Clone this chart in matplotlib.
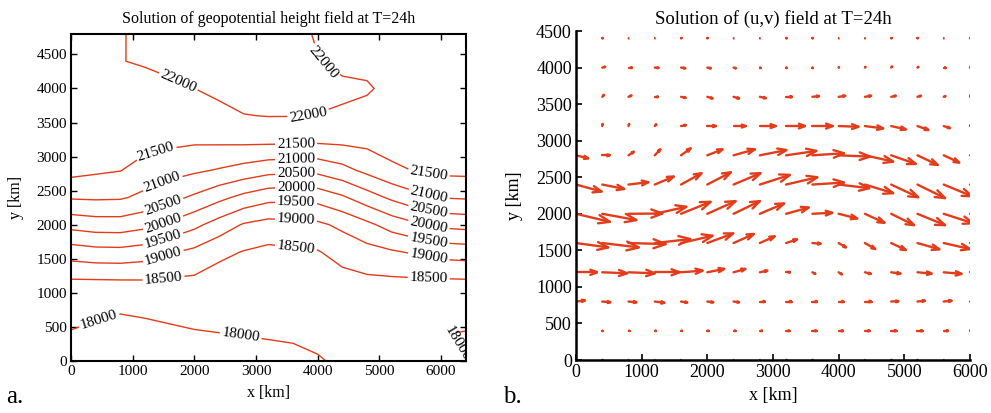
import numpy as np
import matplotlib.pyplot as plt
from matplotlib.collections import LineCollection

plt.rcParams['font.family'] = ['Liberation Serif', 'DejaVu Serif']

RED = '#e23c1a'

# geopotential height h (m) on a 400 km grid, rows from y = 0 upwards
x_h = np.arange(0, 6401, 400)
y_h = np.arange(0, 4801, 400)
h = [
    [17930, 17820, 17690, 17770, 17870, 17930, 17970, 17900, 17900, 17920, 17980, 18040, 18060, 18070, 18060, 18060, 18010],
    [17962, 17848, 17713, 17799, 17896, 17963, 17994, 18009, 18027, 18043, 18060, 18090, 18120, 18130, 18120, 18010, 17975],
    [18231, 18175, 18109, 18152, 18183, 18198, 18150, 18168, 18140, 18150, 18170, 18250, 18250, 18260, 18260, 18250, 18230],
    [18499, 18504, 18510, 18510, 18471, 18433, 18300, 18323, 18260, 18280, 18310, 18360, 18430, 18450, 18470, 18485, 18499],
    [19244, 19329, 19345, 19260, 19053, 18886, 18620, 18478, 18380, 18420, 18470, 18676, 18825, 18945, 19062, 19192, 19235],
    [20167, 20259, 20268, 20136, 19899, 19622, 19288, 18954, 18820, 18859, 18904, 19108, 19385, 19704, 19928, 20111, 20167],
    [21049, 21070, 21053, 20885, 20653, 20418, 20130, 19859, 19656, 19628, 19679, 19928, 20272, 20591, 20861, 21017, 21049],
    [21660, 21576, 21515, 21296, 21184, 21079, 20962, 20815, 20666, 20624, 20634, 20842, 21128, 21400, 21530, 21621, 21631],
    [21740, 21700, 21700, 21651, 21579, 21532, 21539, 21548, 21542, 21530, 21514, 21552, 21601, 21700, 21680, 21720, 21740],
    [21800, 21790, 21830, 21760, 21760, 21765, 21852, 21985, 22014, 22012, 21985, 21927, 21880, 21820, 21780, 21790, 21800],
    [21850, 21860, 21920, 21880, 21920, 21998, 22120, 22200, 22220, 22200, 22150, 22100, 22040, 21900, 21840, 21840, 21850],
    [21890, 21920, 21990, 22034, 22112, 22140, 22180, 22230, 22260, 22200, 22020, 21880, 21900, 21880, 21860, 21870, 21890],
    [21910, 21950, 21982, 22060, 22130, 22160, 22190, 22230, 22260, 22150, 21950, 21850, 21850, 21850, 21850, 21880, 21910],
]
levels = [18000, 18500, 19000, 19500, 20000, 20500, 21000, 21500, 22000]
# where the contour values are written
label_pos = [
    (1750, 4120), (4080, 4380), (3850, 3610),
    (1380, 3060), (3650, 3180), (5800, 2740),
    (1500, 2580), (3650, 2955), (5800, 2420),
    (1500, 2280), (3650, 2750), (5800, 2200),
    (1500, 2010), (3650, 2560), (5800, 1990),
    (1500, 1760), (3650, 2350), (5800, 1780),
    (1500, 1530), (3650, 2110), (5800, 1530),
    (1500, 1215), (3650, 1700), (5800, 1220),
    (450, 620), (2750, 370), (6260, 250),
]

# wind (m/s) on a 400 km grid, rows from y = 0 upwards
x_uv = np.arange(0, 6001, 400)
y_uv = np.arange(0, 4401, 400)
u = [
    [0.3] * 16,
    [0.5, 0.3, 0.8, 1.0, 1.0, 1.2, 1.5, 2.0, 2.8, 3.3, 3.6, 3.8, 4.1, 4.1, 3.6, 0.5],
    [6.9, 6.3, 6.1, 7.4, 4.8, 4.6, 4.3, 4.1, 4.3, 3.8, 4.1, 5.1, 5.6, 5.8, 6.1, 6.9],
    [16.3, 19.0, 20.1, 19.0, 16.5, 13.0, 9.1, 5.8, 3.3, 2.3, 2.5, 4.6, 7.1, 10.9, 13.7, 16.3],
    [24.6, 27.9, 28.4, 27.2, 24.1, 19.8, 15.5, 11.4, 8.4, 6.4, 5.6, 7.9, 11.2, 16.8, 20.1, 24.6],
    [25.9, 26.1, 25.9, 24.1, 22.6, 21.6, 20.1, 18.5, 17.3, 15.2, 14.2, 15.0, 17.5, 21.1, 22.5, 25.9],
    [19.6, 16.8, 15.2, 14.5, 15.7, 18.0, 20.6, 22.9, 23.9, 24.1, 23.4, 21.6, 20.6, 21.1, 21.6, 19.6],
    [9.4, 5.8, 4.1, 4.3, 7.4, 11.7, 16.3, 20.3, 23.1, 24.1, 23.9, 21.6, 18.8, 15.5, 11.9, 9.4],
    [0.3, 0.3, 0.5, 1.2, 3.8, 6.6, 9.4, 12.2, 14.5, 15.5, 15.2, 14.0, 11.2, 8.4, 4.8, 0.3],
    [0.3, 1.3, 2.3, 2.8, 3.6, 4.1, 4.3, 4.6, 4.8, 5.1, 5.1, 4.8, 3.6, 2.8, 1.3, 0.3],
    [0.3, 2.3, 3.0, 3.0, 3.3, 2.8, 1.8, 0.5, 0.5, 0.3, 0.3, 0.5, 0.8, 0.8, 1.5, 0.3],
    [0.4] * 16,
]
v = [
    [0.0] * 16,
    [0.3, 0.0, 0.0, 0.0, 0.0, 0.0, 0.0, 0.0, 0.0, 0.0, 0.0, 0.0, 0.0, 0.0, 0.0, 0.3],
    [0.7, -0.5, -0.5, -0.9, -0.7, -0.5, -0.5, 0.0, 0.0, 0.0, 0.0, 0.0, 0.2, 0.5, 0.5, 0.7],
    [0.0, -0.7, -0.7, 0.0, 1.1, 2.3, 2.3, 1.1, 0.0, -1.1, -1.4, -1.1, -0.9, -0.9, -1.1, 0.0],
    [-3.0, -3.0, -0.7, 2.7, 5.0, 6.6, 6.2, 4.6, 2.5, -0.5, -3.0, -4.1, -4.8, -4.3, -4.1, -3.0],
    [-5.5, -4.3, 0.2, 4.8, 8.2, 8.7, 8.7, 7.1, 4.3, 0.7, -3.2, -6.2, -7.8, -7.8, -6.5, -5.5],
    [-4.8, -3.0, 1.6, 5.5, 7.8, 8.4, 7.8, 6.6, 5.0, 1.4, -2.5, -5.9, -8.7, -9.3, -8.0, -4.8],
    [-2.1, 0.0, 2.5, 4.1, 4.8, 4.1, 4.1, 3.6, 3.0, 1.4, -0.9, -4.3, -5.9, -6.6, -5.0, -2.1],
    [0.8, 1.5, 1.5, 1.2, 0.7, 0.0, 0.0, 0.0, 0.0, 0.0, -0.5, -1.6, -2.3, -2.7, -1.4, 0.8],
    [1.1, 1.4, 0.9, 0.0, -0.7, -1.1, -1.1, -0.9, 0.0, 0.5, 0.7, 0.7, 0.7, 0.7, 0.5, 1.1],
    [0.3, 0.5, 0.0, -0.2, -0.5, -0.5, -0.5, 0.0, 0.0, 0.0, 0.3, 0.5, 0.8, 0.5, 0.0, 0.3],
    [0.0] * 16,
]
KM_PER_MS = 20.0  # arrow length in km for 1 m/s


def arrow_field(ax, x, y, u, v, scale, color, lw=1.7):
    """Line arrows with an open V head sized to the arrow length."""
    X, Y = np.meshgrid(x, y)
    U = np.asarray(u) * scale
    V = np.asarray(v) * scale
    a, b = 0.33, 0.33
    segs = []
    for x0, y0, du, dv in zip(X.ravel(), Y.ravel(), U.ravel(), V.ravel()):
        tx, ty = x0 + du, y0 + dv
        segs.append([(x0, y0), (tx, ty)])
        segs.append([(tx - a * (du + b * dv), ty - a * (dv - b * du)),
                     (tx, ty),
                     (tx - a * (du - b * dv), ty - a * (dv + b * du))])
    lc = LineCollection(segs, colors=color, linewidths=lw, capstyle='round',
                        joinstyle='miter')
    ax.add_collection(lc)
    return lc


fig = plt.figure(figsize=(9.91, 4.13), dpi=100)

# a. geopotential height
ax1 = fig.add_axes([0.0716, 0.1259, 0.3984, 0.7918])
cs = ax1.contour(x_h, y_h, h, levels=levels, colors=RED, linewidths=1.0)
ax1.clabel(cs, manual=label_pos, inline=True, fmt='%d', fontsize=11,
           colors='black', inline_spacing=2)
ax1.set_xlim(0, 6400)
ax1.set_ylim(0, 4800)
ax1.set_xticks(range(0, 6001, 1000))
ax1.set_yticks(range(0, 4501, 500))
ax1.tick_params(direction='in', top=True, right=True, length=4, width=1,
                labelsize=11, pad=3)
for s in ax1.spines.values():
    s.set_linewidth(1.5)
ax1.set_title('Solution of geopotential height field at T=24h', fontsize=11.5, pad=8)
ax1.set_xlabel('x [km]', fontsize=11.5, labelpad=5)
ax1.set_ylabel('y [km]', fontsize=11.5, labelpad=9)

# b. wind field
ax2 = fig.add_axes([0.5812, 0.1283, 0.3976, 0.7966])
arrow_field(ax2, x_uv, y_uv, u, v, KM_PER_MS, RED)
ax2.set_xlim(0, 6000)
ax2.set_ylim(0, 4500)
ax2.set_xticks(range(0, 6001, 1000))
ax2.set_yticks(range(0, 4501, 500))
ax2.spines['top'].set_visible(False)
ax2.spines['right'].set_visible(False)
for s in ('left', 'bottom'):
    ax2.spines[s].set_linewidth(1.8)
ax2.tick_params(direction='in', length=4, width=1.2, labelsize=13, pad=3)
ax2.set_title('Solution of (u,v) field at T=24h', fontsize=13.5, pad=5)
ax2.set_xlabel('x [km]', fontsize=13, labelpad=4)
ax2.set_ylabel('y [km]', fontsize=13, labelpad=9)

fig.text(0.006, 0.025, 'a.', fontsize=18)
fig.text(0.508, 0.025, 'b.', fontsize=18)

fig.savefig('out.png', dpi=100)
